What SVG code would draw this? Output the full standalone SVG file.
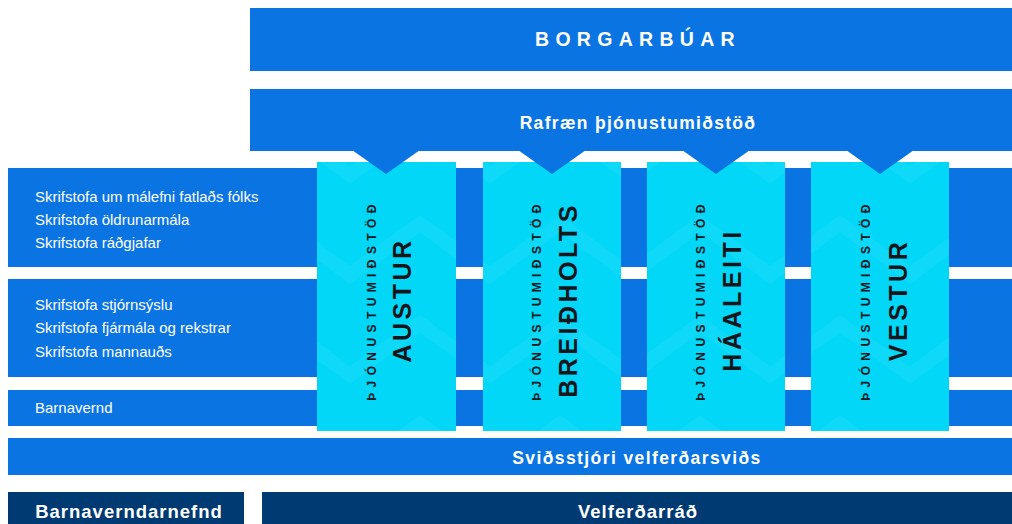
<svg xmlns="http://www.w3.org/2000/svg" width="1012" height="524" viewBox="0 0 1012 524">
<style>
.blue{fill:#0a74e3}
.navy{fill:#003a73}
.cyan{fill:#02d7f8}
.wt{fill:#fff;font-family:"Liberation Sans",Arial,sans-serif}
.b{font-weight:bold}
.sm{font-size:15px}
.vs{font-family:"Liberation Sans",Arial,sans-serif;font-weight:bold;font-size:12px;letter-spacing:5.4px;fill:#15161c;text-anchor:middle;dominant-baseline:central}
.vb{font-family:"Liberation Sans",Arial,sans-serif;font-weight:bold;font-size:25px;letter-spacing:3.5px;fill:#15161c;text-anchor:middle;dominant-baseline:central}
.chev{fill:none;stroke:#ffffff;stroke-opacity:0.05;stroke-width:14}
</style>
<defs>
<pattern id="chv" x="0" y="0" width="140" height="100" patternUnits="userSpaceOnUse">
<path class="chev" d="M-5,20 L70,75 L145,20"/>
</pattern>
</defs>
<rect width="1012" height="524" fill="#fff"/>
<g id="borgarbuar">
<rect class="blue" x="250" y="8" width="762" height="63"/>
<text class="wt b" x="638" y="46" font-size="19.5" letter-spacing="6.3" text-anchor="middle">BORGARBÚAR</text>
</g>
<g id="rows">
<g id="row1">
<rect class="blue" x="8" y="168" width="1004" height="99"/>
<text class="wt sm" x="35" y="202">Skrifstofa um málefni fatlaðs fólks</text>
<text class="wt sm" x="35" y="225">Skrifstofa öldrunarmála</text>
<text class="wt sm" x="35" y="248">Skrifstofa ráðgjafar</text>
</g>
<g id="row2">
<rect class="blue" x="8" y="279" width="1004" height="98"/>
<text class="wt sm" x="35" y="310">Skrifstofa stjórnsýslu</text>
<text class="wt sm" x="35" y="333">Skrifstofa fjármála og rekstrar</text>
<text class="wt sm" x="35" y="357">Skrifstofa mannauðs</text>
</g>
<g id="barnavernd">
<rect class="blue" x="8" y="390" width="1004" height="36"/>
<text class="wt sm" x="35" y="413">Barnavernd</text>
</g>
</g>
<g id="svidsstjori">
<rect class="blue" x="8" y="438" width="1004" height="37"/>
<text class="wt b" x="637" y="464" font-size="17.5" letter-spacing="1.4" text-anchor="middle">Sviðsstjóri velferðarsviðs</text>
</g>
<g id="barnaverndarnefnd">
<rect class="navy" x="8" y="492" width="236" height="32"/>
<text class="wt b" x="129" y="518" font-size="18.5" letter-spacing="1" text-anchor="middle">Barnaverndarnefnd</text>
</g>
<g id="velferdarrad">
<rect class="navy" x="262" y="492" width="750" height="32"/>
<text class="wt b" x="638" y="518" font-size="18.5" letter-spacing="1" text-anchor="middle">Velferðarráð</text>
</g>
<g id="austur">
<rect class="cyan" x="317" y="162" width="139" height="269"/>
<rect x="317" y="162" width="139" height="269" fill="url(#chv)"/>
<text class="vs" transform="translate(372,300) rotate(-90)">ÞJÓNUSTUMIÐSTÖÐ</text>
<text class="vb" transform="translate(402,300) rotate(-90)">AUSTUR</text>
</g>
<g id="breidholts">
<rect class="cyan" x="483" y="162" width="138" height="269"/>
<rect x="483" y="162" width="138" height="269" fill="url(#chv)"/>
<text class="vs" transform="translate(537,300) rotate(-90)">ÞJÓNUSTUMIÐSTÖÐ</text>
<text class="vb" transform="translate(568,300) rotate(-90)">BREIÐHOLTS</text>
</g>
<g id="haaleiti">
<rect class="cyan" x="647" y="162" width="138" height="269"/>
<rect x="647" y="162" width="138" height="269" fill="url(#chv)"/>
<text class="vs" transform="translate(701,300) rotate(-90)">ÞJÓNUSTUMIÐSTÖÐ</text>
<text class="vb" transform="translate(732,300) rotate(-90)">HÁALEITI</text>
</g>
<g id="vestur">
<rect class="cyan" x="811" y="162" width="138" height="269"/>
<rect x="811" y="162" width="138" height="269" fill="url(#chv)"/>
<text class="vs" transform="translate(866,300) rotate(-90)">ÞJÓNUSTUMIÐSTÖÐ</text>
<text class="vb" transform="translate(898,300) rotate(-90)">VESTUR</text>
</g>
<g id="rafraen">
<rect class="blue" x="250" y="89" width="762" height="62"/>
<text class="wt b" x="638" y="129" font-size="17.5" letter-spacing="1.3" text-anchor="middle">Rafræn þjónustumiðstöð</text>
</g>
<g id="connectors">
<polygon class="blue" points="352,150 420,150 386,174"/>
<polygon class="blue" points="518,150 586,150 552,174"/>
<polygon class="blue" points="682,150 750,150 716,174"/>
<polygon class="blue" points="846,150 914,150 880,174"/>
</g>
</svg>
